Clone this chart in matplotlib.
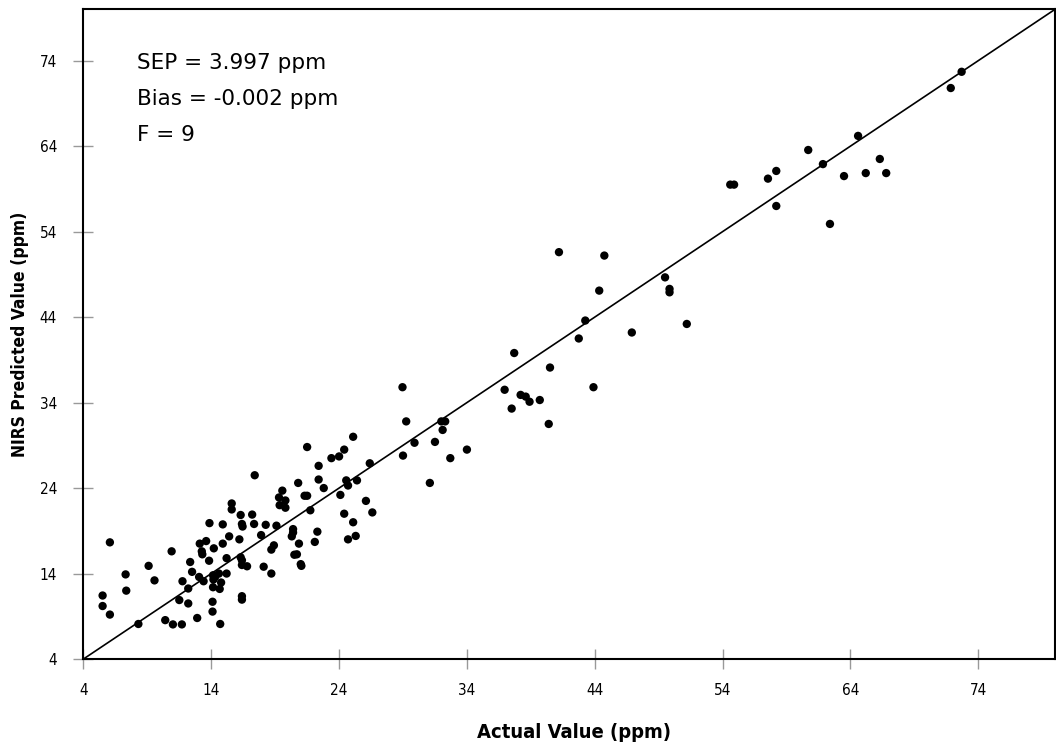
import matplotlib
matplotlib.use("Agg")
import matplotlib.pyplot as plt

actual = [6.07, 5.5, 5.5, 6.07, 7.3, 7.35, 9.1, 9.56, 8.3, 10.9, 10.4, 11.0, 11.7, 11.5, 11.75,
          12.2, 12.2, 12.35, 12.5, 12.9, 13.1, 13.6, 13.26, 13.3, 13.05, 13.4, 13.86, 13.83, 14.2,
          14.14, 14.17, 14.3, 14.14, 14.6, 14.66, 14.77, 14.1, 14.1, 14.7, 14.9, 14.9, 15.2, 15.2,
          15.4, 15.6, 15.6, 16.3, 16.4, 16.45, 16.2, 16.3, 16.4, 16.4, 16.8, 16.4, 16.4, 17.2,
          17.35, 17.9, 18.26, 18.1, 18.7, 18.7, 18.9, 19.1,
          28.96, 29.25, 29.0, 25.1, 21.5, 23.4, 24.0, 24.4, 22.4, 26.4, 17.4, 22.4, 24.56, 24.7,
          25.4, 20.8, 19.56, 19.3, 19.8, 19.35, 19.8, 21.3, 21.5, 22.8, 24.1, 21.75, 26.1, 26.6,
          24.4, 25.1, 25.3, 24.7, 22.3, 22.1, 20.4, 20.4, 20.3, 20.86, 20.5, 20.7, 21.0, 21.05,
          42.75, 37.7, 40.5, 43.9, 36.95, 38.2, 38.6, 38.9, 39.7, 37.5, 40.4, 32.0, 32.3, 32.1,
          29.9, 31.5, 34.0, 32.7, 31.1,
          41.2, 44.75, 49.5, 49.85, 49.85, 44.35, 43.26, 51.2, 46.9,
          72.7, 71.85, 64.6, 60.7, 61.85, 66.3, 58.2, 57.55, 54.6, 54.9, 63.5, 65.2, 66.8, 58.2, 62.4]

predicted = [17.65, 11.43, 10.2, 9.2, 13.9, 12.0, 14.9, 13.2, 8.1, 16.6, 8.55, 8.05, 8.05, 10.9, 13.1,
             12.25, 10.5, 15.35, 14.2, 8.8, 17.5, 17.8, 16.6, 16.25, 13.6, 13.1, 19.9, 15.5, 16.95,
             13.8, 13.3, 13.6, 12.4, 14.0, 12.2, 12.95, 10.7, 9.55, 8.1, 19.75, 17.5, 15.8, 14.0,
             18.35, 22.2, 21.5, 20.85, 19.8, 19.5, 18.0, 15.9, 15.55, 15.0, 14.85, 11.35, 10.95, 20.9,
             19.8, 18.5, 19.7, 14.8, 14.0, 16.8, 17.3, 19.6,
             35.8, 31.8, 27.8, 30.0, 28.8, 27.5, 27.7, 28.5, 26.6, 26.9, 25.5, 25.0, 24.9, 24.3,
             24.9, 24.6, 23.7, 22.9, 22.55, 22.0, 21.7, 23.1, 23.1, 24.0, 23.2, 21.4, 22.5, 21.15,
             21.0, 20.0, 18.4, 18.0, 18.9, 17.7, 19.2, 18.8, 18.35, 17.5, 16.2, 16.25, 15.1, 14.9,
             41.5, 39.8, 38.1, 35.8, 35.5, 34.9, 34.7, 34.1, 34.3, 33.3, 31.5, 31.8, 31.8, 30.8,
             29.3, 29.4, 28.5, 27.5, 24.6,
             51.6, 51.2, 48.65, 47.3, 46.9, 47.1, 43.6, 43.2, 42.2,
             72.7, 70.8, 65.2, 63.55, 61.9, 62.5, 61.1, 60.2, 59.5, 59.5, 60.5, 60.85, 60.85, 57.0, 54.9]

ticks = [4, 14, 24, 34, 44, 54, 64, 74]
stats_lines = ["SEP = 3.997 ppm", "Bias = -0.002 ppm", "F = 9"]
x_label = "Actual Value (ppm)"
y_label = "NIRS Predicted Value (ppm)"

fam = ['DejaVu Sans']

fig = plt.figure(figsize=(10.56, 7.45), dpi=100)
ax = fig.add_axes([0.079, 0.1154, 0.920, 0.872])

ax.plot([4, 80], [4, 80], color='black', linewidth=1.2, zorder=2)
ax.scatter(actual, predicted, s=36, color='black', edgecolors='none', zorder=3)

ax.set_xlim(4, 80)
ax.set_ylim(4, 80)
ax.set_xticks(ticks)
ax.set_yticks(ticks)
ax.set_xticklabels([str(t) for t in ticks], family=fam, fontstretch='condensed', fontsize=11)
ax.set_yticklabels([str(t) for t in ticks], family=fam, fontstretch='condensed', fontsize=11)
ax.tick_params(direction='inout', length=14, width=1, color='#999999')
ax.tick_params(axis='y', pad=12)
ax.tick_params(axis='x', pad=10)
for sp in ax.spines.values():
    sp.set_linewidth(1.5)
    sp.set_color('black')

ax.set_xlabel(x_label, family=fam, fontstretch='condensed', fontsize=14.5, fontweight='bold', labelpad=14)
ax.xaxis.set_label_coords(0.505, -0.098)
ax.set_ylabel(y_label, family=fam, fontstretch='condensed', fontsize=12.5, fontweight='bold', labelpad=8)

for i, line in enumerate(stats_lines):
    ax.text(0.055, 0.917 - i * 0.0555, line, transform=ax.transAxes,
            fontsize=15.5, family=['DejaVu Sans'], va='center', ha='left')

fig.savefig("out.png", dpi=100)
